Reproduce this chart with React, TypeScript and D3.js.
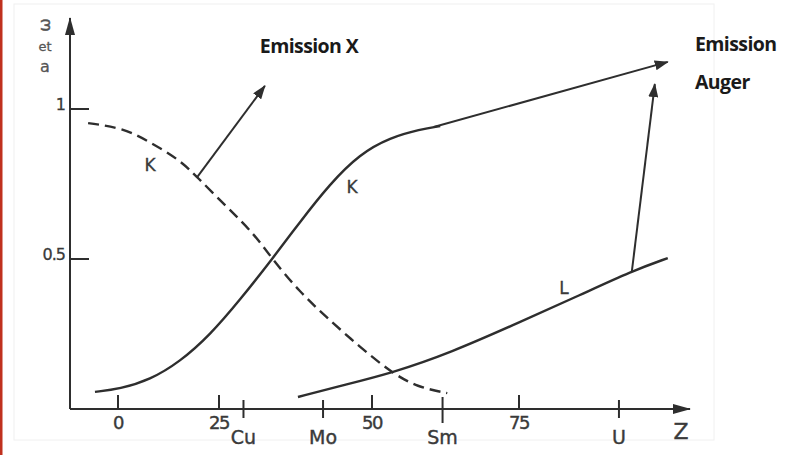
import React from "react";
import * as d3 from "d3";

// Atomic number Z (x) and yield (y)
const omegaK_Z = [-7.4, 1.2, 7.9, 15.3, 19.6, 26.3, 30.6, 33.7, 38.2, 42.6, 48.0, 53.4, 57.7, 62.8];
const omegaK_V = [0.953, 0.937, 0.89, 0.83, 0.773, 0.673, 0.587, 0.5, 0.39, 0.305, 0.207, 0.12, 0.073, 0.053];

const augerK_Z = [-5.7, 0.5, 7.9, 15.3, 22.8, 28.4, 33.7, 38.2, 43.1, 48.0, 53.1, 58.2, 61.6];
const augerK_V = [0.057, 0.067, 0.097, 0.157, 0.247, 0.363, 0.5, 0.623, 0.75, 0.85, 0.905, 0.932, 0.943];

const augerL_Z = [37.9, 44.8, 53.4, 63.3, 75.2, 85.4, 94.2, 100.3];
const augerL_V = [0.04, 0.077, 0.12, 0.187, 0.29, 0.38, 0.46, 0.503];

const numTicks = [0, 25, 50, 75];
const elemNames = ["Cu", "Mo", "Sm", "U"];
const elemZ = [29, 42, 62, 92];
const yTicks = [1, 0.5];
const yTickLabels = ["1", "0.5"];

// arrows: [fromZ, fromV, toZ, toV]
const arrowX = [19.6, 0.773, 32.5, 1.077];
const arrowAuger1 = [60.5, 0.94, 100.3, 1.157];
const arrowAuger2 = [94.2, 0.46, 98.1, 1.083];

const x = d3.scaleLinear().domain([0, 25, 50, 75]).range([118, 219, 372, 519]);
const y = d3.scaleLinear().domain([0, 1]).range([409, 109]);

const line = d3
  .line<[number, number]>()
  .x((d) => x(d[0]))
  .y((d) => y(d[1]))
  .curve(d3.curveBasis);

const zip = (a: number[], b: number[]) => a.map((v, i) => [v, b[i]] as [number, number]);

const ink = "#2e2e2e";
const axisFont = "'DejaVu Sans', sans-serif";
const labelColor = "#3a3a3a";

export default function App() {
  const axisY = y(0);
  const axisX = 70;
  return (
    <svg
      width={796}
      height={455}
      style={{ position: "absolute", left: 0, top: 0, background: "#fff" }}
    >
      <defs>
        <marker id="ah" viewBox="0 0 14 10" refX="13" refY="5" markerWidth="14" markerHeight="10" markerUnits="userSpaceOnUse" orient="auto">
          <path d="M0,0 L14,5 L0,10 Z" fill={ink} />
        </marker>
        <marker id="ahAxis" viewBox="0 0 18 10" refX="17" refY="5" markerWidth="18" markerHeight="10" markerUnits="userSpaceOnUse" orient="auto">
          <path d="M0,0 L18,5 L0,10 Z" fill={ink} />
        </marker>
      </defs>
      <rect x={0} y={0} width={796} height={455} fill="#fff" />
      <rect x={14} y={4} width={700} height={436} fill="none" stroke="#f0f0f0" strokeWidth={1} />
      <rect x={0} y={0} width={2.5} height={455} fill="#c0311e" />

      {/* axes */}
      <line x1={axisX} y1={axisY} x2={axisX} y2={18} stroke={ink} strokeWidth={2} markerEnd="url(#ahAxis)" />
      <line x1={axisX} y1={axisY} x2={690} y2={axisY} stroke={ink} strokeWidth={2} markerEnd="url(#ahAxis)" />

      {/* y label */}
      <text x={45} y={25} fontFamily={axisFont} fontSize={16} fill="#555" stroke="#555" strokeWidth={0.4} textAnchor="middle" dominantBaseline="middle" transform="rotate(-90 45 25)">ω</text>
      <text x={45} y={47} fontFamily={axisFont} fontSize={13} fill="#555" stroke="#555" strokeWidth={0.3} textAnchor="middle" dominantBaseline="middle">et</text>
      <text x={45} y={67} fontFamily={axisFont} fontSize={16} fill="#555" stroke="#555" strokeWidth={0.3} textAnchor="middle" dominantBaseline="middle">a</text>

      {/* y ticks */}
      {yTicks.map((t, i) => (
        <g key={"yt" + i}>
          <line x1={axisX} x2={axisX + 19} y1={y(t)} y2={y(t)} stroke={ink} strokeWidth={2} />
          <text x={axisX - 5} y={y(t) - 4} fontFamily={axisFont} fontSize={16} fill={labelColor} stroke={labelColor} strokeWidth={0.3} textAnchor="end" dominantBaseline="middle" letterSpacing={-1}>
            {yTickLabels[i]}
          </text>
        </g>
      ))}

      {/* x numeric ticks */}
      {numTicks.map((t) => (
        <g key={"xt" + t}>
          <line x1={x(t)} x2={x(t)} y1={axisY - 14} y2={axisY} stroke={ink} strokeWidth={2} />
          <text x={x(t)} y={axisY + 20} fontFamily={axisFont} fontSize={18} fill={labelColor} stroke={labelColor} strokeWidth={0.4} textAnchor="middle" letterSpacing={-1.5}>
            {t}
          </text>
        </g>
      ))}
      {/* element ticks */}
      {elemNames.map((n, i) => (
        <g key={"el" + n}>
          <line x1={x(elemZ[i])} x2={x(elemZ[i])} y1={axisY - (n === "Sm" ? 12 : 9)} y2={axisY + (n === "Sm" ? 14 : 9)} stroke={ink} strokeWidth={2} />
          <text x={x(elemZ[i])} y={axisY + 35} fontFamily={axisFont} fontSize={19} fill={labelColor} stroke={labelColor} strokeWidth={0.4} textAnchor="middle">
            {n}
          </text>
        </g>
      ))}
      <text x={681} y={axisY + 30} fontFamily={axisFont} fontSize={22} fill={labelColor} stroke={labelColor} strokeWidth={0.4} textAnchor="middle">Z</text>

      {/* curves */}
      <path d={line(zip(omegaK_Z, omegaK_V)) || ""} fill="none" stroke={ink} strokeWidth={2.4} strokeDasharray="11 6" />
      <path d={line(zip(augerK_Z, augerK_V)) || ""} fill="none" stroke={ink} strokeWidth={2.4} />
      <path d={line(zip(augerL_Z, augerL_V)) || ""} fill="none" stroke={ink} strokeWidth={2.4} />

      {/* arrows */}
      {[arrowX, arrowAuger1, arrowAuger2].map((a, i) => (
        <line key={"ar" + i} x1={x(a[0])} y1={y(a[1])} x2={x(a[2])} y2={y(a[3])} stroke={ink} strokeWidth={2} markerEnd="url(#ah)" />
      ))}

      {/* curve labels */}
      <text x={150} y={171} fontFamily={axisFont} fontSize={17} fill={labelColor} stroke={labelColor} strokeWidth={0.3} textAnchor="middle">K</text>
      <text x={352} y={193} fontFamily={axisFont} fontSize={17} fill={labelColor} stroke={labelColor} strokeWidth={0.3} textAnchor="middle">K</text>
      <text x={564} y={294} fontFamily={axisFont} fontSize={17} fill={labelColor} stroke={labelColor} strokeWidth={0.3} textAnchor="middle">L</text>

      {/* annotations */}
      <text x={309} y={53} fontFamily="'Open Sans', sans-serif" fontWeight="bold" fontSize={19.5} fill="#1a1a1a" textAnchor="middle" letterSpacing={-0.6}>Emission X</text>
      <text x={695} y={51} fontFamily="'Open Sans', sans-serif" fontWeight="bold" fontSize={19.5} fill="#1a1a1a" letterSpacing={-0.6}>Emission</text>
      <text x={695} y={89} fontFamily="'Open Sans', sans-serif" fontWeight="bold" fontSize={19.5} fill="#1a1a1a" letterSpacing={-0.6}>Auger</text>
    </svg>
  );
}
